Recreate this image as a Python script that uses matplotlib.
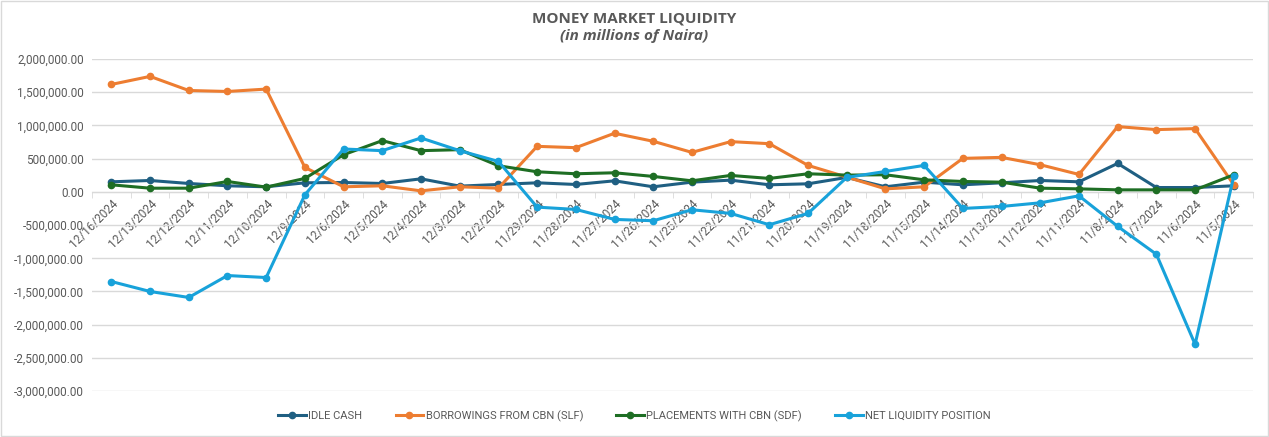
import matplotlib
matplotlib.use("Agg")
from matplotlib import pyplot as plt
from matplotlib.patches import Rectangle
from matplotlib.ticker import FuncFormatter, FixedLocator

dates = ["12/16/2024", "12/13/2024", "12/12/2024", "12/11/2024", "12/10/2024",
         "12/9/2024", "12/6/2024", "12/5/2024", "12/4/2024", "12/3/2024",
         "12/2/2024", "11/29/2024", "11/28/2024", "11/27/2024", "11/26/2024",
         "11/25/2024", "11/22/2024", "11/21/2024", "11/20/2024", "11/19/2024",
         "11/18/2024", "11/15/2024", "11/14/2024", "11/13/2024", "11/12/2024",
         "11/11/2024", "11/8/2024", "11/7/2024", "11/6/2024", "11/5/2024"]

# values in millions of Naira
idle_cash = [151000, 171000, 126000, 91000, 76000, 136000, 141000, 126000, 196000, 86000,
             111000, 136000, 111000, 166000, 76000, 146000, 176000, 106000, 121000, 217000,
             76000, 146000, 106000, 136000, 171000, 151000, 428000, 65000, 65000, 91000]
slf = [1617000, 1738000, 1526000, 1511000, 1547000, 368000, 76000, 91000, 15000, 76000,
       55000, 685000, 665000, 882000, 761000, 594000, 756000, 725000, 398000, 222000,
       45000, 76000, 504000, 519000, 408000, 262000, 982000, 937000, 952000, 106000]
sdf = [106000, 55000, 55000, 156000, 71000, 202000, 559000, 771000, 620000, 635000,
       393000, 302000, 272000, 287000, 232000, 166000, 247000, 202000, 272000, 252000,
       257000, 181000, 156000, 146000, 55000, 45000, 30000, 30000, 30000, 257000]
net_liquidity = [-1350000, -1500000, -1590000, -1260000, -1290000, -45000, 645000, 620000, 811000, 620000,
                 458000, -230000, -265000, -415000, -435000, -270000, -325000, -495000, -325000, 217000,
                 307000, 398000, -250000, -220000, -165000, -60000, -520000, -940000, -2295000, 237000]

series = [
    ("IDLE CASH", idle_cash, "#1F5F82"),
    ("BORROWINGS FROM CBN (SLF)", slf, "#ED7D31"),
    ("PLACEMENTS WITH CBN (SDF)", sdf, "#1E6E24"),
    ("NET LIQUIDITY POSITION", net_liquidity, "#18A2DA"),
]

plt.rcParams["font.family"] = ["Roboto", "DejaVu Sans"]
text_color = "#595959"

fig = plt.figure(figsize=(12.69, 4.37), dpi=100)
ax = fig.add_axes([0.0725, 0.105, 0.915, 0.760])

x = list(range(len(dates)))
for name, vals, color in series:
    ax.plot(x, vals, color=color, linewidth=2.2, marker="o", markersize=4.5, label=name)

ax.set_xlim(-0.5, len(dates) - 0.5)
ax.set_ylim(-3000000, 2000000)
ax.set_yticks(range(-3000000, 2000001, 500000))
ax.yaxis.set_major_formatter(FuncFormatter(lambda v, p: f"{v:,.2f}"))
ax.grid(axis="y", color="#D9D9D9", linewidth=1)
ax.set_axisbelow(True)

for s in ["top", "right", "left"]:
    ax.spines[s].set_visible(False)
ax.spines["bottom"].set_position(("data", 0))
ax.spines["bottom"].set_color("#D9D9D9")
ax.spines["bottom"].set_zorder(1)

ax.set_xticks(x)
ax.set_xticklabels(dates, rotation=45, ha="right", va="top", rotation_mode="anchor")
ax.xaxis.set_minor_locator(FixedLocator([i - 0.5 for i in range(len(dates) + 1)]))
ax.tick_params(axis="x", which="major", length=0, pad=4, labelsize=8.5, labelcolor=text_color)
ax.tick_params(axis="x", which="minor", length=4, color="#D9D9D9")
ax.tick_params(axis="y", length=0, pad=6, labelsize=8.5, labelcolor=text_color)

fig.text(0.5, 0.958, "MONEY MARKET LIQUIDITY", ha="center", va="center",
         fontsize=11, fontweight="bold", color=text_color, family=["Open Sans", "DejaVu Sans"])
fig.text(0.5, 0.918, "(in millions of Naira)", ha="center", va="center",
         fontsize=11, fontweight="bold", fontstyle="italic", color=text_color,
         family=["Open Sans", "DejaVu Sans"])

fig.legend(loc="center", bbox_to_anchor=(0.5, 0.048), ncol=4, frameon=False,
           fontsize=8, labelcolor=text_color, handlelength=2.5, columnspacing=3.0,
           handletextpad=0.2)

fig.patches.append(Rectangle((0.001, 0.002), 0.998, 0.996, transform=fig.transFigure,
                             fill=False, edgecolor="#D9D9D9", linewidth=1))

plt.savefig("out.png", dpi=100)
